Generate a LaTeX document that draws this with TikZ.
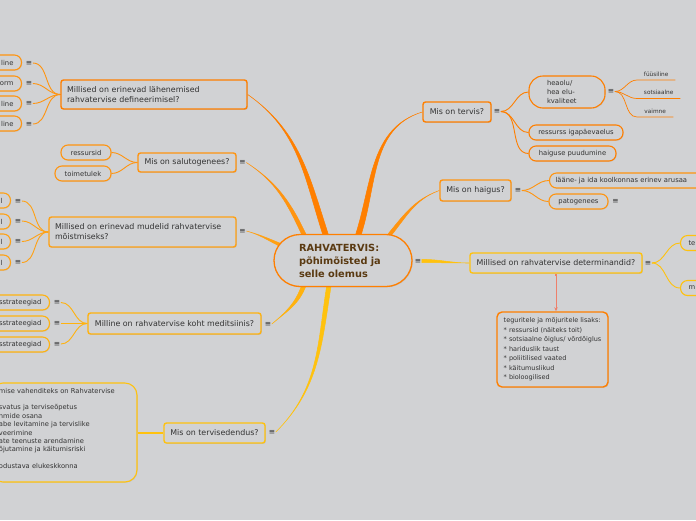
\documentclass[tikz,border=0pt]{standalone}
\usepackage{fontspec}
\setmainfont{DejaVu Sans}
\usepackage{tikz}
\usetikzlibrary{arrows.meta,calc,backgrounds,shadows}
\definecolor{canvas}{HTML}{D1D2D4}
\definecolor{ink}{HTML}{333333}
\definecolor{rootink}{HTML}{5A3A12}
\definecolor{orA}{HTML}{FF7F00}
\definecolor{orB}{HTML}{FF9410}
\definecolor{orC}{HTML}{FFA114}
\definecolor{orD}{HTML}{FFB20F}
\definecolor{orE}{HTML}{FFC20E}
\definecolor{relred}{HTML}{E8553A}
\newcommand{\rootfont}{\fontsize{9.8}{13}\selectfont\bfseries}
\newcommand{\topicfont}{\fontsize{7.9}{10}\selectfont}
\newcommand{\kidfont}{\fontsize{6.8}{9}\selectfont}
\newcommand{\notefont}{\fontsize{6.5}{9.5}\selectfont}
\newcommand{\leaffont}{\fontsize{5.8}{7}\selectfont}
% tapered limb: colour, start, half width, out, in, end
\newcommand{\limb}[6]{\filldraw[#1,line width=0.5pt] ($(#2)+(#3)$) to[out=#4,in=#5] (#6) to[out=#5,in=#4] ($(#2)-(#3)$) -- cycle;}

\begin{document}
\begin{tikzpicture}[x=1pt,y=-1pt,>=Stealth]
  \path[use as bounding box] (0,0) rectangle (696,520);
  \clip (0,0) rectangle (696,520);
  \tikzset{
    topic/.style={draw=#1,fill=canvas,line width=1.4pt,rounded corners=2.5pt,align=left,font=\topicfont,text=ink,inner xsep=6pt,inner ysep=2pt,drop shadow={shadow xshift=0.8pt,shadow yshift=-0.8pt,opacity=0.25}},
    kid/.style={draw=#1,fill=canvas,line width=1.1pt,rounded corners=7pt,align=left,font=\kidfont,text=ink,inner xsep=8pt,inner ysep=1pt,minimum height=15pt,drop shadow={shadow xshift=0.7pt,shadow yshift=-0.7pt,opacity=0.2}},
    mk/.style={font=\fontsize{7.5}{7.5}\selectfont,text=ink,inner sep=0.5pt},
    leaf/.style={font=\leaffont,text=ink,inner xsep=0pt,inner ysep=3.5pt,anchor=south west},
    twig/.style={draw=#1,line width=0.9pt}
  }
  % centre
  \node[topic=orA,rounded corners=26pt,minimum width=138pt,minimum height=52pt,text width=88pt,font=\rootfont,text=rootink,line width=1.3pt] (root) at (343,260.5) {RAHVATERVIS:\\põhimõisted ja\\selle olemus};
  \node[mk] (m0) at (418,261) {≡};

  % left side
  \node[topic=orA,text width=174pt,minimum height=29pt] (defi) at (154,94.5) {Millised on erinevad lähenemised\\rahvatervise defineerimisel?};
  \node[topic=orB,minimum width=98pt,minimum height=19pt] (salu) at (187,162.5) {Mis on salutogenees?};
  \node[mk] (m2) at (242.5,162.5) {≡};
  \node[topic=orC,text width=175pt,minimum height=30pt] (mudel) at (142.5,232) {Millised on erinevad mudelid rahvatervise\\mõistmiseks?};
  \node[mk] (m3) at (242.5,231) {≡};
  \node[topic=orD,minimum width=173pt,minimum height=21pt] (koht) at (174.5,323.5) {Milline on rahvatervise koht meditsiinis?};
  \node[mk] (m4) at (268,324) {≡};
  \node[topic=orE,minimum width=101pt,minimum height=20pt] (edend) at (214.5,433) {Mis on tervisedendus?};
  \node[mk] (m5) at (272,432) {≡};

  \node[kid=orB,text width=40pt,align=right,anchor=east] (lA) at (22,62.5) {line};
  \node[kid=orB,text width=40pt,align=right,anchor=east] (lB) at (22,83.5) {orm};
  \node[kid=orB,text width=40pt,align=right,anchor=east] (lC) at (22,103.5) {line};
  \node[kid=orB,text width=40pt,align=right,anchor=east] (lD) at (22,123.5) {line};
  \node[mk] (lAm) at (29,63) {≡};
  \node[mk] (lBm) at (29,83.5) {≡};
  \node[mk] (lCm) at (29,103.5) {≡};
  \node[mk] (lDm) at (29,124) {≡};

  \node[kid=orB,minimum width=50pt] (ress) at (86,152.5) {ressursid};
  \node[kid=orB,minimum width=56pt] (toim) at (83,173.5) {toimetulek};

  \node[kid=orC,text width=40pt,align=right,anchor=east] (uA) at (11,200.5) {l};
  \node[kid=orC,text width=40pt,align=right,anchor=east] (uB) at (11,221.5) {l};
  \node[kid=orC,text width=40pt,align=right,anchor=east] (uC) at (11,241.5) {l};
  \node[kid=orC,text width=40pt,align=right,anchor=east] (uD) at (11,262.5) {l};
  \node[mk] (uAm) at (18,201) {≡};
  \node[mk] (uBm) at (18,221) {≡};
  \node[mk] (uCm) at (18,241.5) {≡};
  \node[mk] (uDm) at (18,262.5) {≡};

  \node[kid=orD,text width=60pt,align=right,anchor=east] (sA) at (50,302.5) {sstrateegiad};
  \node[kid=orD,text width=60pt,align=right,anchor=east] (sB) at (50,323.5) {sstrateegiad};
  \node[kid=orD,text width=60pt,align=right,anchor=east] (sC) at (50,344.5) {sstrateegiad};
  \node[mk] (sAm) at (57,302.5) {≡};
  \node[mk] (sBm) at (57,323.5) {≡};
  \node[mk] (sCm) at (57,344) {≡};

  \node[kid=orE,rounded corners=12pt,text width=130pt,minimum height=99pt,anchor=east,font=\fontsize{6.7}{8.4}\selectfont] (vahend) at (137.5,432.5) {mise vahenditeks on Rahvatervise\\\mbox{}\\svatus ja terviseõpetus\\nmide osana\\abe levitamine ja tervislike\\veerimine\\ate teenuste arendamine\\õjutamine ja käitumisriski\\\mbox{}\\odustava elukeskkonna\\\mbox{}};

  % right side
  \node[topic=orA,minimum width=68pt,minimum height=20pt] (tervis) at (457,112) {Mis on tervis?};
  \node[mk] (m6) at (497,111.5) {≡};
  \node[kid=orA,rounded corners=14pt,minimum width=76pt,minimum height=32pt,text width=40pt] (heaolu) at (567,92) {heaolu/\\hea elu-\\kvaliteet};
  \node[mk] (mh) at (611,91.5) {≡};
  \node[kid=orA,minimum width=94pt] (ressurss) at (576,132.5) {ressurss igapäevaelus};
  \node[kid=orA,minimum width=87pt] (puudu) at (572.5,153.5) {haiguse puudumine};
  \node[leaf,minimum width=38pt] (fyys) at (637,80) {füüsiline};
  \node[leaf,minimum width=43pt] (sots) at (637,98.5) {sotsiaalne};
  \node[leaf,minimum width=36pt] (vaim) at (637,117) {vaimne};

  \node[topic=orB,minimum width=71pt,minimum height=21pt] (haigus) at (475.5,190.5) {Mis on haigus?};
  \node[mk] (m7) at (518,190.5) {≡};
  \node[kid=orB,text width=150pt,inner xsep=6pt,anchor=west] (laane) at (549,180.5) {lääne- ja ida koolkonnas erinev arusaa};
  \node[kid=orB,minimum width=59pt] (pato) at (578.5,201.5) {patogenees};
  \node[mk] (mp) at (615.5,201.5) {≡};

  \node[topic=orE,minimum width=172pt,minimum height=20pt] (determ) at (556,263) {Millised on rahvatervise determinandid?};
  \node[mk] (m8) at (648,263) {≡};
  \node[kid=orE,text width=30pt,anchor=west] (dA) at (680,243) {te};
  \node[kid=orE,text width=30pt,anchor=west] (dB) at (680,288) {m};

  \node[topic=orA,rounded corners=5pt,minimum width=111pt,minimum height=75pt,inner xsep=5.5pt,font=\notefont] (note) at (552.5,349.5) {teguritele ja mõjuritele lisaks:\\* ressursid (näiteks toit)\\* sotsiaalne õiglus/ võrdõiglus\\* hariduslik taust\\* poliitilised vaated\\* käitumuslikud\\* bioloogilised};

  \draw[relred!75,line width=0.8pt,{Square[length=2.5pt,width=2.5pt]}-{Stealth[length=4pt,width=3.5pt]}] (determ.south) -- (determ.south |- note.north);

  \coordinate (r1) at ($(root.north)+(-17,2)$);
  \coordinate (r2) at ($(root.north)+(-38,3)$);
  \coordinate (r3) at ($(root.west)+(16,-12)$);
  \coordinate (r4) at ($(root.south)+(-39,-2)$);
  \coordinate (r5) at ($(root.south)+(-14,-2)$);
  \coordinate (r6) at ($(root.north)+(15,2)$);
  \coordinate (r7) at ($(root.north)+(44,4)$);

  \begin{scope}[on background layer]
    \fill[canvas] (0,0) rectangle (696,520);
    \limb{orA}{r1}{2.8,0}{108}{-35}{defi.east}
    \limb{orA}{r6}{2.8,0}{72}{197}{tervis.west}
    \limb{orB}{r2}{2.2,0}{115}{-33}{m2.east}
    \limb{orB}{r7}{2.2,0}{50}{200}{haigus.west}
    \limb{orC}{r3}{0,1.8}{160}{-15}{m3.east}
    \limb{orD}{r4}{2.2,0}{250}{40}{m4.east}
    \limb{orE}{r5}{2.2,0}{261}{45}{m5.east}
    \limb{orE}{m0.east}{0,1.6}{0}{180}{determ.west}

    \draw[twig=orB] (defi.west) to[out=180,in=0] (lAm.east);
    \draw[twig=orB] (defi.west) to[out=180,in=0] (lBm.east);
    \draw[twig=orB] (defi.west) to[out=180,in=0] (lCm.east);
    \draw[twig=orB] (defi.west) to[out=180,in=0] (lDm.east);
    \draw[twig=orB] (salu.west) to[out=180,in=0] (ress.east);
    \draw[twig=orB] (salu.west) to[out=180,in=0] (toim.east);
    \draw[twig=orC] (mudel.west) to[out=180,in=0] (uAm.east);
    \draw[twig=orC] (mudel.west) to[out=180,in=0] (uBm.east);
    \draw[twig=orC] (mudel.west) to[out=180,in=0] (uCm.east);
    \draw[twig=orC] (mudel.west) to[out=180,in=0] (uDm.east);
    \draw[twig=orD] (koht.west) to[out=180,in=0] (sAm.east);
    \draw[twig=orD] (koht.west) to[out=180,in=0] (sBm.east);
    \draw[twig=orD] (koht.west) to[out=180,in=0] (sCm.east);
    \draw[twig=orE,line width=1.6pt] (edend.west) -- (edend.west -| vahend.east);

    \draw[twig=orA] (m6.east) to[out=0,in=180] (heaolu.west);
    \draw[twig=orA] (m6.east) to[out=0,in=180] (ressurss.west);
    \draw[twig=orA] (m6.east) to[out=0,in=180] (puudu.west);
    \draw[twig=orA,line width=0.7pt] (mh.east) to[out=0,in=180] (fyys.south west) -- (fyys.south east);
    \draw[twig=orA,line width=0.7pt] (mh.east) to[out=0,in=180] (sots.south west) -- (sots.south east);
    \draw[twig=orA,line width=0.7pt] (mh.east) to[out=0,in=180] (vaim.south west) -- (vaim.south east);
    \draw[twig=orB] (m7.east) to[out=0,in=180] (laane.west);
    \draw[twig=orB] (m7.east) to[out=0,in=180] (pato.west);
    \draw[twig=orE] (m8.east) to[out=0,in=180] (dA.west);
    \draw[twig=orE] (m8.east) to[out=0,in=180] (dB.west);
  \end{scope}
\end{tikzpicture}
\end{document}
